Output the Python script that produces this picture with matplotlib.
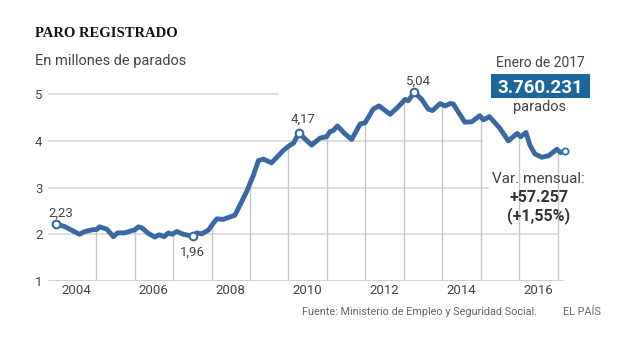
import numpy as np
import matplotlib
matplotlib.use('Agg')
import matplotlib.pyplot as plt
from matplotlib.patches import Rectangle

# Paro registrado, millones de parados
years = [2003.95, 2004.20, 2004.57, 2004.71, 2004.93, 2005.02, 2005.09, 2005.28, 2005.45, 2005.56,
         2005.75, 2005.93, 2006.00, 2006.10, 2006.19, 2006.36, 2006.53, 2006.64, 2006.77, 2006.88,
         2006.97, 2007.10, 2007.27, 2007.51, 2007.62, 2007.75, 2007.92, 2008.05, 2008.14, 2008.31,
         2008.61, 2008.91, 2009.09, 2009.22, 2009.35, 2009.56, 2009.87, 2010.04, 2010.13, 2010.27,
         2010.60, 2010.82, 2010.99, 2011.08, 2011.16, 2011.27, 2011.47, 2011.64, 2011.86, 2011.99,
         2012.20, 2012.35, 2012.64, 2012.85, 2013.03, 2013.11, 2013.27, 2013.46, 2013.63, 2013.74,
         2013.94, 2014.07, 2014.20, 2014.28, 2014.58, 2014.76, 2014.97, 2015.06, 2015.22, 2015.49,
         2015.71, 2015.94, 2016.03, 2016.17, 2016.27, 2016.40, 2016.58, 2016.75, 2016.97, 2017.07,
         2017.19]
values = [2.23, 2.16, 2.00, 2.06, 2.10, 2.10, 2.16, 2.11, 1.95, 2.03,
          2.03, 2.08, 2.09, 2.16, 2.14, 2.02, 1.94, 1.99, 1.95, 2.03,
          2.00, 2.06, 2.00, 1.96, 2.03, 2.01, 2.09, 2.24, 2.33, 2.32,
          2.41, 2.91, 3.27, 3.58, 3.61, 3.53, 3.80, 3.91, 3.95, 4.17,
          3.91, 4.06, 4.09, 4.20, 4.22, 4.32, 4.15, 4.03, 4.36, 4.39,
          4.68, 4.75, 4.57, 4.73, 4.89, 4.86, 5.04, 4.89, 4.68, 4.65,
          4.80, 4.75, 4.80, 4.79, 4.40, 4.41, 4.54, 4.45, 4.52, 4.27,
          4.00, 4.16, 4.09, 4.18, 3.91, 3.72, 3.65, 3.68, 3.82, 3.75,
          3.78]

# puntos destacados: (indice, etiqueta, desplazamiento en pixeles)
highlights = [(0, '2,23', (5, 7)), (23, '1,96', (0, -20)),
              (39, '4,17', (4, 10)), (56, '5,04', (4, 8))]

year_ticks = [2004, 2006, 2008, 2010, 2012, 2014, 2016]
y_ticks = [1, 2, 3, 4, 5]
drop_years = list(range(2005, 2018))
# extension de las lineas horizontales (hasta donde llegan en el original)
grid_ends = {2: 2017.0, 3: 2015.18, 4: 2015.03, 5: 2009.73}

BLUE = '#3b68a2'
BOX = '#1b679c'
TXT = '#444444'
W, H = 628, 358

plt.rcParams['font.family'] = ['Roboto', 'DejaVu Sans']
fig = plt.figure(figsize=(W / 100, H / 100), dpi=100)
fig.patch.set_facecolor('white')

def fx(x):
    return x / W

def fy(y):
    return 1 - y / H

ax = fig.add_axes([48 / W, 77 / H, 524 / W, 196 / H])
ax.set_xlim(2003.753, 2017.364)
ax.set_ylim(1, 5.197)
for s in ax.spines.values():
    s.set_visible(False)

# rejilla
x0 = 2003.753
for v, xe in grid_ends.items():
    ax.plot([x0, xe], [v, v], color='#d4d4d4', lw=1.1, zorder=1)
ax.plot([x0, 2017.13], [1, 1], color='#c4c4c4', lw=1.1, zorder=1)
drop_vals = np.interp(drop_years, years, values)
ax.vlines(drop_years, 1, drop_vals, color='#c8c8c8', lw=1.0, zorder=1)

ax.plot(years, values, color=BLUE, lw=3.5, solid_joinstyle='round',
        solid_capstyle='round', zorder=3)

for i, lab, off in highlights:
    ax.plot(years[i], values[i], 'o', ms=5.5, mfc='white', mec=BLUE, mew=1.5, zorder=4)
    ax.annotate(lab, (years[i], values[i]), xytext=off, textcoords='offset pixels',
                ha='center', va='baseline', fontsize=9.5, color=TXT)
ax.plot(years[-1], values[-1], 'o', ms=4.5, mfc='white', mec='#2a78b0', mew=1.3, zorder=4)

ax.set_yticks(y_ticks)
ax.set_yticklabels([str(v) for v in y_ticks])
ax.set_xticks([y + 0.5 for y in year_ticks])
ax.set_xticklabels([str(y) for y in year_ticks])
ax.tick_params(axis='both', length=0, labelsize=9.5, labelcolor=TXT)
ax.tick_params(axis='y', pad=4)
ax.tick_params(axis='x', pad=2)

# textos
fig.text(fx(35), fy(37), 'PARO REGISTRADO', family='Liberation Serif', weight='bold',
         fontsize=10.5, color='#111111', va='baseline')
fig.text(fx(35), fy(65), 'En millones de parados', fontsize=10.5, color=TXT, va='baseline')

fig.text(fx(540), fy(67), 'Enero de 2017', fontsize=10, color=TXT, ha='center', va='baseline')
fig.add_artist(Rectangle((fx(491), fy(98)), 99 / W, 24 / H, transform=fig.transFigure,
                         facecolor=BOX, edgecolor='none'))
fig.text(fx(540), fy(93), '3.760.231', fontsize=13.5, weight='bold', color='white',
         ha='center', va='baseline')
fig.text(fx(540), fy(110.5), 'parados', fontsize=10.5, color=TXT, ha='center', va='baseline')

fig.text(fx(538.5), fy(183), 'Var. mensual:', fontsize=11, color=TXT, ha='center', va='baseline')
fig.text(fx(538.5), fy(202), '+57.257', fontsize=11.5, weight='bold', color='#333333',
         ha='center', va='baseline')
fig.text(fx(538.5), fy(220), '(+1,55%)', fontsize=11.5, weight='bold', color='#333333',
         ha='center', va='baseline')

fig.text(fx(537), fy(315), 'Fuente: Ministerio de Empleo y Seguridad Social.', fontsize=7.8,
         color='#666666', ha='right', va='baseline')
fig.text(fx(563), fy(315), 'EL PAÍS', fontsize=7.8, color='#666666', va='baseline')

fig.savefig('out.png', dpi=100)
